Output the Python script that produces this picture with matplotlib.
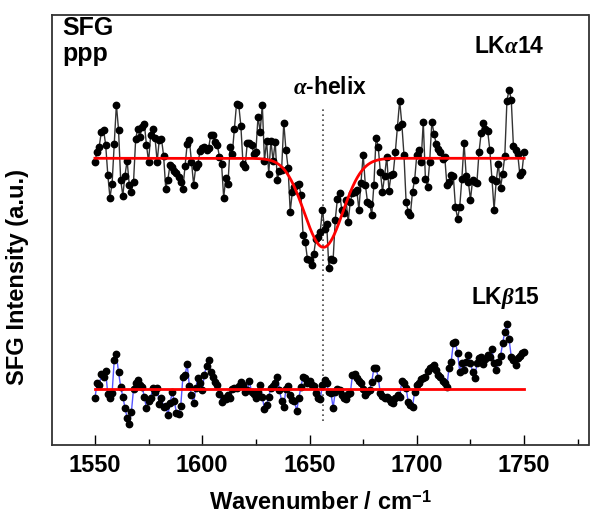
import numpy as np
import matplotlib
matplotlib.use('Agg')
import matplotlib.pyplot as plt
from matplotlib.ticker import MultipleLocator

plt.rcParams['font.family'] = ['Liberation Sans', 'DejaVu Sans']
plt.rcParams['font.weight'] = 'bold'
plt.rcParams['axes.labelweight'] = 'bold'
plt.rcParams['mathtext.fontset'] = 'custom'
plt.rcParams['mathtext.rm'] = 'Liberation Sans:bold'
plt.rcParams['mathtext.it'] = 'Liberation Serif:italic'
plt.rcParams['mathtext.bf'] = 'Liberation Sans:bold'

# LKalpha14 (a.u.), 1 cm-1 steps
top_a = [283, 293, 298, 313, 315, 300, 270, 247, 261, 301,
         340, 315, 265, 249, 269, 284, 260, 253, 263, 306,
         316, 308, 318, 321, 300, 283, 310, 316, 307, 283,
         305, 306, 289, 256, 265, 280, 278, 274, 272, 268,
         263, 256, 279, 301, 305, 283, 260, 278, 281, 294,
         297, 298, 295, 297, 310, 310, 303, 300, 288, 281,
         247, 267, 261, 298, 291, 316, 341, 340, 319, 281,
         278, 302, 302, 300, 291, 293, 328, 313, 340, 284]   # 1550-1629
top_b = [304, 271, 304, 284, 303, 265, 274, 275, 322, 295,
         277, 233, 253, 258, 260, 261, 250, 210, 203, 186,
         185, 180, 191, 206, 208, 213, 235, 216, 221, 177,
         186, 185, 225, 246, 252, 235, 232, 245, 223, 243,
         252, 253, 255, 235, 262, 290, 260, 243, 241, 230,
         260, 307, 298, 273, 253, 269, 288, 254, 270, 271,
         293, 318, 344, 321, 290, 243, 233, 230, 253, 265,
         290, 295, 283, 323, 266, 258, 283, 323, 311, 301,
         296, 293, 286, 288, 260, 263, 270, 269, 238, 226]   # 1630-1719
top_c = [238, 266, 302, 269, 263, 245, 265, 263, 262, 293,
         312, 322, 316, 314, 295, 266, 235, 264, 281, 257,
         271, 289, 344, 355, 345, 299, 295, 291, 270, 273, 293]   # 1720-1750

# LKbeta15
bot_a = [46.3, 61.3, 59.6, 70.3, 67.9, 73.6, 50.3, 46.3, 51.3, 84.6,
         90.3, 72.3, 57.9, 47.9, 36.9, 26.9, 20.3, 32.9, 55.6, 61.3,
         64.6, 59.6, 57.9, 47.9, 36.3, 43.6, 46.3, 56.9, 52.3, 56.9,
         40.3, 46.9, 37.9, 38.9, 29.6, 41.3, 52.3, 43.6, 31.3, 30.3,
         38.9, 67.9, 69.6, 80.3, 58.9, 49.6, 41.3, 56.3, 66.9, 61.3,
         54.6, 69.6, 78.9, 84.6, 72.3, 67.9, 62.9, 59.6, 50.3, 42.9,
         46.3, 45.6, 49.6, 46.3, 55.6, 56.3, 56.9, 58.9, 62.9, 59.6,
         52.9, 54.6, 63.6, 52.3, 50.3, 46.9, 52.3, 59.6, 47.9, 35.6]
bot_b = [39.6, 47.9, 56.9, 58.9, 61.3, 67.9, 54.6, 43.6, 37.9, 55.6,
         58.9, 49.6, 44.6, 43.6, 33.6, 46.3, 57.9, 67.9, 66.9, 61.3,
         63.6, 59.6, 58.9, 51.3, 46.3, 45.6, 59.6, 64.6, 61.3, 52.3,
         51.3, 36.9, 52.9, 55.6, 54.6, 49.6, 46.9, 45.6, 50.3, 51.3,
         69.6, 70.3, 66.9, 63.6, 61.3, 55.6, 49.6, 52.3, 54.6, 62.9,
         76.3, 76.9, 66.9, 51.3, 48.9, 46.3, 47.9, 45.6, 42.3, 41.3,
         46.3, 49.6, 47.9, 63.6, 61.3, 56.9, 42.3, 39.6, 37.9, 52.9,
         59.6, 61.3, 65.6, 66.9, 67.9, 73.6, 76.9, 77.9, 79.6, 74.6,
         69.6, 67.9, 63.6, 61.3, 57.9, 76.9, 82.9, 101.3, 102.3, 91.3]
bot_c = [73, 81.3, 74.6, 82.9, 89.6, 81.3, 73, 66.3, 81.3, 86.3,
         88, 80.6, 85.3, 89.6, 87.3, 95.3, 81.3, 74.6, 82.9, 88.6,
         101.3, 113, 120.6, 105.3, 88, 84.6, 79.3, 86.3, 88.6, 91.3, 92.6]

# gaussian fit (top) and flat fit (bottom)
fit_base, fit_amp, fit_center, fit_sigma = 286.3, 89.0, 1656.5, 9.0
bot_base = 55.5
helix_pos = 1656.5


def seg(start, stop, vals):
    return np.linspace(start, stop, len(vals))


wn_top = np.concatenate([seg(1550, 1629, top_a), seg(1630, 1719, top_b), seg(1720, 1750, top_c)])
y_top = np.array(top_a + top_b + top_c)
wn_bot = np.concatenate([seg(1550, 1629, bot_a), seg(1630, 1719, bot_b), seg(1720, 1750, bot_c)])
y_bot = np.array(bot_a + bot_b + bot_c)

fig = plt.figure(figsize=(6, 5.26), dpi=100)
ax = fig.add_axes([52 / 600, 1 - 444.6 / 526, 536.5 / 600, 430 / 526])

ax.plot(wn_top, y_top, '-', color='#333333', lw=1.0, zorder=2)
ax.plot(wn_top, y_top, 'o', color='black', ms=4.6, zorder=3)
xf = np.linspace(1550, 1750, 801)
ax.plot(xf, fit_base - fit_amp * np.exp(-(xf - fit_center) ** 2 / (2 * fit_sigma ** 2)),
        color='red', lw=2, zorder=4)

ax.plot(wn_bot, y_bot, '-', color='#5555ff', lw=1.0, zorder=2)
ax.plot(wn_bot, y_bot, 'o', color='black', ms=4.6, zorder=3)
ax.plot([1550, 1750], [bot_base, bot_base], color='red', lw=2, zorder=4)

ax.plot([helix_pos, helix_pos], [24, 338], color='#444444', lw=1.2,
        dashes=(1.0, 2.0), zorder=1)

ax.text(0.02, 0.952, 'SFG', transform=ax.transAxes, fontsize=18)
ax.text(0.02, 0.893, 'ppp', transform=ax.transAxes, fontsize=18)
ax.text(1743, 392, r'LK$\alpha$14', fontsize=16.5, ha='center')
ax.text(1659.7, 351, r'$\alpha$-helix', fontsize=16.5, ha='center')
ax.text(1741.5, 141, r'LK$\beta$15', fontsize=16.5, ha='center')

ax.set_xlim(1530, 1780)
ax.set_ylim(0, 430)
ax.set_yticks([])
ax.xaxis.set_major_locator(MultipleLocator(50))
ax.xaxis.set_minor_locator(MultipleLocator(25))
ax.tick_params(axis='x', which='major', direction='in', length=7.5, width=1,
               labelsize=17, pad=7)
ax.tick_params(axis='x', which='minor', direction='in', length=4.3, width=1)
for s in ax.spines.values():
    s.set_color('#333333')
    s.set_linewidth(1.3)

ax.set_xlabel('Wavenumber / cm$^{-1}$', fontsize=17, labelpad=10)
ax.set_ylabel('SFG Intensity (a.u.)', fontsize=17)
ax.yaxis.set_label_coords(-0.042, 0.39)

fig.savefig('out.png', dpi=100)
